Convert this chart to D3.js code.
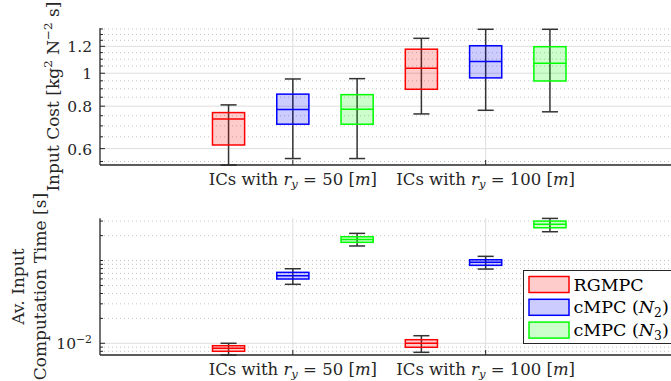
<!DOCTYPE html>
<html>
<head>
<meta charset="utf-8">
<script src="https://cdn.jsdelivr.net/npm/d3@7"></script>
<style>
  body { margin: 0; background: #fff; }
  svg { display: block; font-family: 'DejaVu Serif', 'Liberation Serif', serif; }
</style>
</head>
<body>
<script>
// categories
const groupRy = ['50', '100']
const methods = ['RGMPC', 'cMPC (N2)', 'cMPC (N3)']
const methodColors = ['#ff0000', '#0000ff', '#00ff00']

// box stats per group: [low whisker, q1, median, q3, high whisker]
const costRGMPC = [[0.537, 0.615, 0.734, 0.766, 0.807], [0.759, 0.897, 1.034, 1.177, 1.267]]
const costN2 = [[0.561, 0.708, 0.782, 0.868, 0.962], [0.778, 0.969, 1.082, 1.205, 1.347]]
const costN3 = [[0.561, 0.708, 0.784, 0.865, 0.964], [0.770, 0.949, 1.070, 1.197, 1.347]]

const timeRGMPC = [[0.00722, 0.0080, 0.0087, 0.00935, 0.0100], [0.00778, 0.00895, 0.0100, 0.01105, 0.01235]]
const timeN2 = [[0.0516, 0.0598, 0.0655, 0.0720, 0.0796], [0.0789, 0.0875, 0.0951, 0.1023, 0.1124]]
const timeN3 = [[0.150, 0.166, 0.180, 0.194, 0.213], [0.223, 0.249, 0.274, 0.300, 0.323]]

// axis ticks
const costTicks = [0.6, 0.8, 1, 1.2]
const costMinor = [0.55, 0.65, 0.7, 0.75, 0.85, 0.9, 0.95, 1.05, 1.1, 1.15, 1.25, 1.3, 1.35]
const costDomain = [0.537, 1.356]
const timeTicks = [0.01]
const timeMinor = [0.008, 0.009, 0.02, 0.03, 0.04, 0.05, 0.06, 0.07, 0.08, 0.09, 0.1, 0.2, 0.3]
const timeDomain = [0.00722, 0.324]

const SVG_WIDTH = 671
const SVG_HEIGHT = 381
const LEFT = 100
const AXIS_COLOR = '#262626'
const TEXT_COLOR = '#262626'
const FONT = 16.5
const YLABEL_FONT = 17
const TICK_FONT = 15.5

const svg = d3.select('body').append('svg')
  .attr('width', SVG_WIDTH)
  .attr('height', SVG_HEIGHT)

const x = d3.scaleLinear().domain([-1, 8]).range([LEFT, 678.5])
const groupPos = [2, 5]

// write text made of parts: {t, i (italic), sub, sup}
function rich(sel, parts) {
  let shift = 0
  parts.forEach(p => {
    const target = p.sub ? 0.2 : p.sup ? -0.42 : 0
    const small = p.sub || p.sup
    const ts = sel.append('tspan').text(p.t)
      .attr('dy', `${(target - shift) / (small ? 0.7 : 1)}em`)
    if (p.i) ts.attr('font-style', 'italic')
    if (small) ts.attr('font-size', '0.7em')
    shift = target
  })
  return sel
}

function groupLabel(ry) {
  return [{t: 'ICs with '}, {t: 'r', i: true}, {t: 'y', i: true, sub: true},
    {t: ' = ' + ry + ' ['}, {t: 'm', i: true}, {t: ']'}]
}

function panel(cfg) {
  const y = d3.scaleLog().domain(cfg.domain).range([cfg.bottom, cfg.top])
  const g = svg.append('g')
  const right = SVG_WIDTH + 5

  // minor grid
  g.selectAll('.minor').data(cfg.minor).enter().append('line')
    .attr('x1', LEFT).attr('x2', right)
    .attr('y1', d => y(d)).attr('y2', d => y(d))
    .attr('stroke', '#c4c4c4').attr('stroke-width', 1)
    .attr('stroke-dasharray', '1,3')
  // major grid
  g.selectAll('.major').data(cfg.ticks).enter().append('line')
    .attr('x1', LEFT).attr('x2', right)
    .attr('y1', d => y(d)).attr('y2', d => y(d))
    .attr('stroke', '#dedede').attr('stroke-width', 1)
  g.selectAll('.vgrid').data(groupPos).enter().append('line')
    .attr('x1', d => x(d)).attr('x2', d => x(d))
    .attr('y1', cfg.top).attr('y2', cfg.bottom)
    .attr('stroke', '#dedede').attr('stroke-width', 1)

  // boxes
  const boxes = []
  cfg.series.forEach((s, m) => {
    s.forEach((st, gi) => boxes.push({pos: 1 + gi * 3 + m, st, color: methodColors[m]}))
  })
  const bw = x(0.5) - x(0)
  const cw = x(0.25) - x(0)
  const b = g.selectAll('.box').data(boxes).enter().append('g')
  b.append('line')
    .attr('x1', d => x(d.pos)).attr('x2', d => x(d.pos))
    .attr('y1', d => y(d.st[0])).attr('y2', d => y(d.st[4]))
    .attr('stroke', '#333').attr('stroke-width', 1.5)
  b.selectAll('.cap').data(d => [d, d].map((e, k) => ({pos: e.pos, v: e.st[k * 4]})))
    .enter().append('line')
    .attr('x1', d => x(d.pos) - cw / 2).attr('x2', d => x(d.pos) + cw / 2)
    .attr('y1', d => y(d.v)).attr('y2', d => y(d.v))
    .attr('stroke', '#333').attr('stroke-width', 1.5)
  b.append('rect')
    .attr('x', d => x(d.pos) - bw / 2).attr('width', bw)
    .attr('y', d => y(d.st[3])).attr('height', d => y(d.st[1]) - y(d.st[3]))
    .attr('fill', d => d.color).attr('fill-opacity', 0.2)
    .attr('stroke', d => d.color).attr('stroke-width', 1.5)
  b.append('line')
    .attr('x1', d => x(d.pos) - bw / 2).attr('x2', d => x(d.pos) + bw / 2)
    .attr('y1', d => y(d.st[2])).attr('y2', d => y(d.st[2]))
    .attr('stroke', d => d.color).attr('stroke-width', 1.5)

  // axes (ticks inward)
  g.selectAll('.ytick').data(cfg.ticks).enter().append('line')
    .attr('x1', LEFT).attr('x2', LEFT + 5)
    .attr('y1', d => y(d)).attr('y2', d => y(d))
    .attr('stroke', AXIS_COLOR).attr('stroke-width', 1)
  g.selectAll('.ymtick').data(cfg.minor).enter().append('line')
    .attr('x1', LEFT).attr('x2', LEFT + 3)
    .attr('y1', d => y(d)).attr('y2', d => y(d))
    .attr('stroke', AXIS_COLOR).attr('stroke-width', 1)
  g.selectAll('.xtick').data(groupPos).enter().append('line')
    .attr('x1', d => x(d)).attr('x2', d => x(d))
    .attr('y1', cfg.bottom).attr('y2', cfg.bottom - 5)
    .attr('stroke', AXIS_COLOR).attr('stroke-width', 1)
  g.append('line').attr('x1', LEFT).attr('x2', right)
    .attr('y1', cfg.bottom).attr('y2', cfg.bottom)
    .attr('stroke', AXIS_COLOR).attr('stroke-width', 1.3)
  g.append('line').attr('x1', LEFT).attr('x2', LEFT)
    .attr('y1', cfg.top).attr('y2', cfg.bottom)
    .attr('stroke', AXIS_COLOR).attr('stroke-width', 1.3)

  // tick labels
  g.selectAll('.ylab').data(cfg.ticks).enter().append('text')
    .attr('x', LEFT - 8).attr('y', d => y(d) + 6)
    .attr('text-anchor', 'end').attr('font-size', TICK_FONT).attr('fill', TEXT_COLOR)
    .each(function(d) { rich(d3.select(this), cfg.tickParts(d)) })
  g.selectAll('.xlab').data(groupPos).enter().append('text')
    .attr('x', d => x(d)).attr('y', cfg.bottom + 20)
    .attr('text-anchor', 'middle').attr('font-size', FONT).attr('fill', TEXT_COLOR)
    .each(function(d, i) { rich(d3.select(this), groupLabel(groupRy[i])) })

  // y label
  const cy = (cfg.top + cfg.bottom) / 2
  cfg.ylabel.forEach((parts, i) => {
    const t = g.append('text')
      .attr('transform', `translate(${cfg.ylabelX[i]}, ${cy}) rotate(-90)`)
      .attr('text-anchor', 'middle').attr('font-size', YLABEL_FONT).attr('fill', TEXT_COLOR)
    rich(t, parts)
  })
  return y
}

panel({
  top: 28.3, bottom: 165, domain: costDomain,
  ticks: costTicks, minor: costMinor,
  series: [costRGMPC, costN2, costN3],
  tickParts: d => [{t: String(d)}],
  ylabel: [[{t: 'Input Cost [kg'}, {t: '2', sup: true}, {t: ' N'}, {t: '−2', sup: true}, {t: ' s]'}]],
  ylabelX: [59]
})

panel({
  top: 218.3, bottom: 355, domain: timeDomain,
  ticks: timeTicks, minor: timeMinor,
  series: [timeRGMPC, timeN2, timeN3],
  tickParts: d => [{t: '10'}, {t: '−2', sup: true}],
  ylabel: [[{t: 'Av. Input'}], [{t: 'Computation Time [s]'}]],
  ylabelX: [24, 46]
})

// legend
const lg = svg.append('g').attr('transform', 'translate(523.5, 270.5)')
lg.append('rect').attr('width', 160).attr('height', 73)
  .attr('fill', '#fff').attr('stroke', AXIS_COLOR).attr('stroke-width', 1)
const legendParts = [
  [{t: 'RGMPC'}],
  [{t: 'cMPC ('}, {t: 'N', i: true}, {t: '2', sub: true}, {t: ')'}],
  [{t: 'cMPC ('}, {t: 'N', i: true}, {t: '3', sub: true}, {t: ')'}]
]
methods.forEach((name, i) => {
  const row = lg.append('g').attr('transform', `translate(0, ${6 + i * 22.8})`)
  row.append('rect').attr('x', 5.5).attr('y', 0).attr('width', 40).attr('height', 16)
    .attr('fill', methodColors[i]).attr('fill-opacity', 0.2)
    .attr('stroke', methodColors[i]).attr('stroke-width', 1.5)
  const t = row.append('text').attr('x', 50).attr('y', 14)
    .attr('font-size', FONT + 1).attr('fill', '#000')
  rich(t, legendParts[i])
})
</script>
</body>
</html>
